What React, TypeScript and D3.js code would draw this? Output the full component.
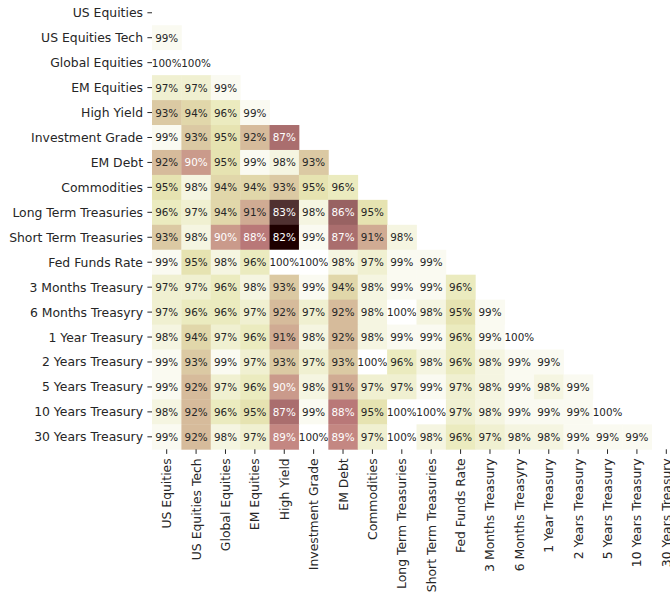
import * as d3 from 'd3';

const LABELS = [
  'US Equities', 'US Equities Tech', 'Global Equities', 'EM Equities', 'High Yield',
  'Investment Grade', 'EM Debt', 'Commodities', 'Long Term Treasuries', 'Short Term Treasuries',
  'Fed Funds Rate', '3 Months Treasury', '6 Months Treasyry', '1 Year Treasury',
  '2 Years Treasury', '5 Years Treasury', '10 Years Treasury', '30 Years Treasury',
];

// lower triangle, row i holds columns 0..i-1 (percent)
const ROWS: number[][] = [
  [],
  [99],
  [100, 100],
  [97, 97, 99],
  [93, 94, 96, 99],
  [99, 93, 95, 92, 87],
  [92, 90, 95, 99, 98, 93],
  [95, 98, 94, 94, 93, 95, 96],
  [96, 97, 94, 91, 83, 98, 86, 95],
  [93, 98, 90, 88, 82, 99, 87, 91, 98],
  [99, 95, 98, 96, 100, 100, 98, 97, 99, 99],
  [97, 97, 96, 98, 93, 99, 94, 98, 99, 99, 96],
  [97, 96, 96, 97, 92, 97, 92, 98, 100, 98, 95, 99],
  [98, 94, 97, 96, 91, 98, 92, 98, 99, 99, 96, 99, 100],
  [99, 93, 99, 97, 93, 97, 93, 100, 96, 98, 96, 98, 99, 99],
  [99, 92, 97, 96, 90, 98, 91, 97, 97, 99, 97, 98, 99, 98, 99],
  [98, 92, 96, 95, 87, 99, 88, 95, 100, 100, 97, 98, 99, 99, 99, 100],
  [99, 92, 98, 97, 89, 100, 89, 97, 100, 98, 96, 97, 98, 98, 99, 99, 99],
];

const W = 670, H = 596;
const GRID = { l: 152, t: 0.3, w: 529, h: 449 };
const FONT = 'DejaVu Sans, sans-serif';
const INK = '#262626';

// matplotlib "pink": sqrt((2*gray + hot) / 3)
function pink(t: number): [number, number, number] {
  const c = (v: number) => Math.max(0, Math.min(1, v));
  const hr = t < 0.365079 ? 0.0416 + (1 - 0.0416) * t / 0.365079 : 1;
  const hg = c((t - 0.365079) / (0.746032 - 0.365079));
  const hb = c((t - 0.746032) / (1 - 0.746032));
  return [hr, hg, hb].map(h => Math.sqrt((2 * t + h) / 3)) as [number, number, number];
}

function luminance([r, g, b]: [number, number, number]) {
  const lin = (v: number) => (v <= 0.03928 ? v / 12.92 : Math.pow((v + 0.055) / 1.055, 2.4));
  return 0.2126 * lin(r) + 0.7152 * lin(g) + 0.0722 * lin(b);
}

export default function App() {
  const cells = ROWS.flatMap((row, i) => row.map((v, j) => ({ i, j, v })));
  const vals = cells.map(d => d.v);
  const norm = d3.scaleLinear().domain([d3.min(vals) ?? 0, d3.max(vals) ?? 100]).range([0, 1]).clamp(true);

  const x = d3.scaleBand<number>().domain(d3.range(LABELS.length)).range([GRID.l, GRID.l + GRID.w]).padding(0);
  const y = d3.scaleBand<number>().domain(d3.range(LABELS.length)).range([GRID.t, GRID.t + GRID.h]).padding(0);
  const bw = x.bandwidth(), bh = y.bandwidth();
  const bottom = GRID.t + GRID.h;

  return (
    <svg width={W} height={H} style={{ position: 'absolute', left: 0, top: 0, background: '#fff', overflow: 'hidden' }}>
      {cells.map(d => {
        const rgb = pink(norm(d.v));
        const fill = d3.rgb(rgb[0] * 255, rgb[1] * 255, rgb[2] * 255).formatHex();
        const txt = luminance(rgb) > 0.408 ? INK : '#ffffff';
        const cx = (x(d.j) ?? 0), cy = (y(d.i) ?? 0);
        return (
          <g key={`${d.i}-${d.j}`}>
            <rect x={cx} y={cy} width={bw + 0.4} height={bh + 0.4} fill={fill} />
            <text x={cx + bw / 2} y={cy + bh / 2} textAnchor="middle" dominantBaseline="central"
              fontFamily={FONT} fontSize={10.4} fill={txt}>{Math.round(d.v)}%</text>
          </g>
        );
      })}

      {/* y axis */}
      {LABELS.map((lab, i) => {
        const cy = (y(i) ?? 0) + bh / 2;
        return (
          <g key={`y${i}`}>
            <line x1={GRID.l - 4.6} x2={GRID.l} y1={cy} y2={cy} stroke={INK} strokeWidth={1} />
            <text x={GRID.l - 9} y={cy} textAnchor="end" dominantBaseline="central"
              fontFamily={FONT} fontSize={12.4} fill={INK}>{lab}</text>
          </g>
        );
      })}

      {/* x axis */}
      {LABELS.map((lab, j) => {
        const cx = (x(j) ?? 0) + bw / 2;
        return (
          <g key={`x${j}`}>
            <line x1={cx} x2={cx} y1={bottom} y2={bottom + 4.6} stroke={INK} strokeWidth={1} />
            <text transform={`translate(${cx},${bottom + 9}) rotate(-90)`} textAnchor="end" dominantBaseline="central"
              fontFamily={FONT} fontSize={12.4} fill={INK}>{lab}</text>
          </g>
        );
      })}
    </svg>
  );
}
